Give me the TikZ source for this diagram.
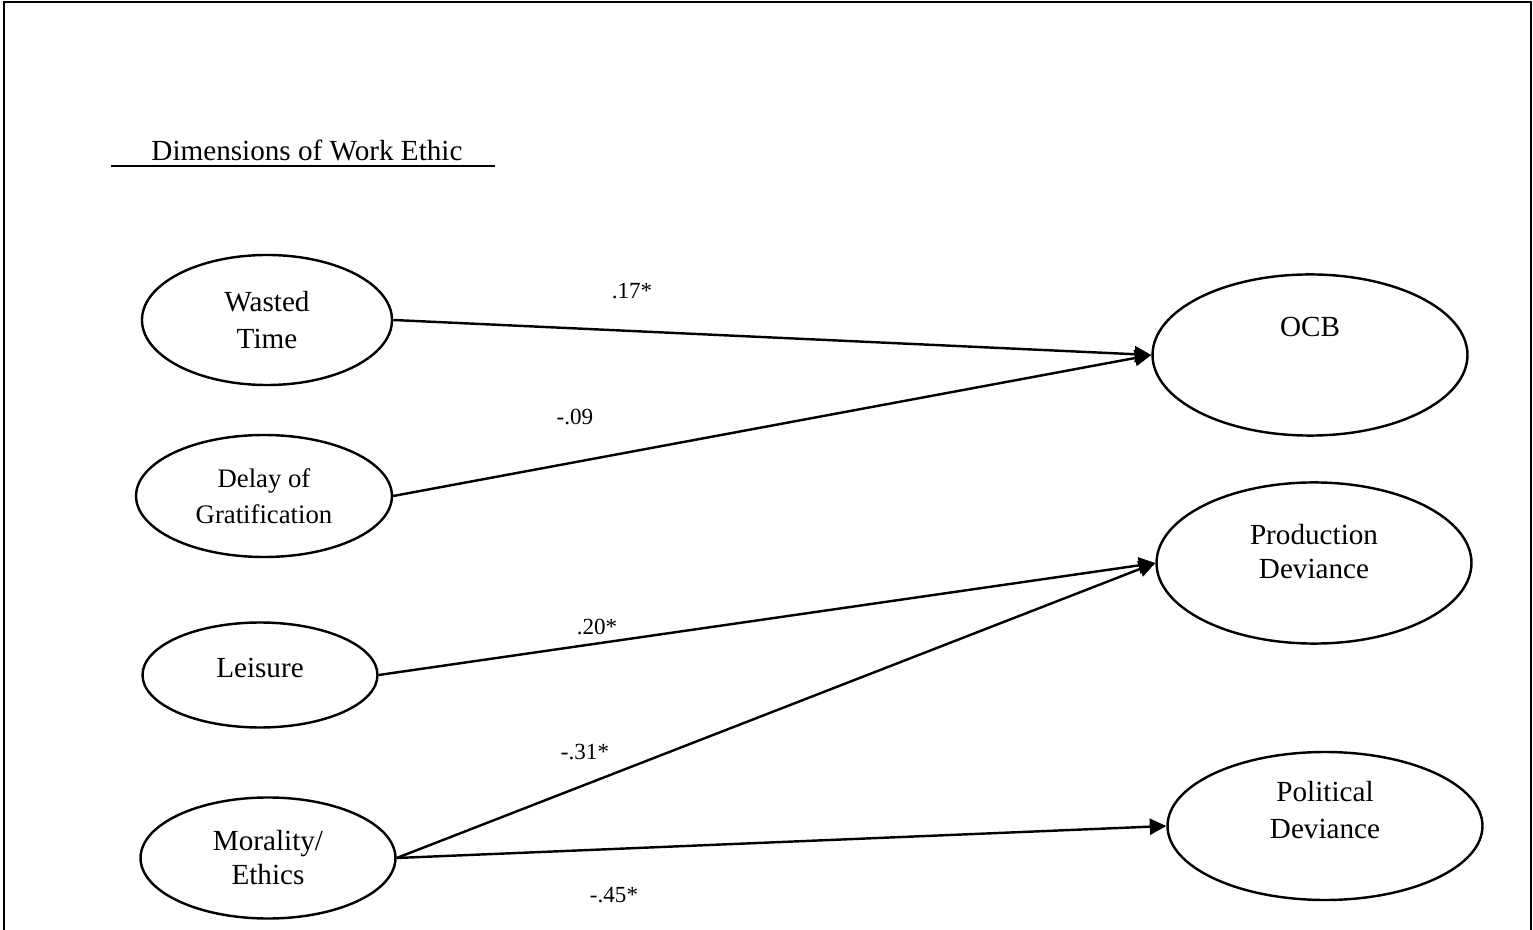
\documentclass[tikz,border=0pt]{standalone}
\usepackage{fontspec}
\setmainfont{Liberation Serif}
\usetikzlibrary{arrows.meta,shapes.geometric}

\begin{document}
\begin{tikzpicture}
  [x=0.4115pt,y=-0.4115pt,line width=1pt,
  >={Triangle[length=6.8pt,width=6.6pt]},
	dim node/.style={ellipse,draw,inner sep=0pt,align=center,
  font=\fontsize{12}{15}\selectfont},
	out node/.style={dim node,minimum width=129.6pt,minimum height=66.3pt},
	every label/.style={align=center,font=\fontsize{12}{14}\selectfont},
	coef/.style={anchor=base,font=\fontsize{9.5}{11}\selectfont}]

  \useasboundingbox (0,0) rectangle (1533,930);
  \draw (4,930) -- (4,2) -- (1531,2) -- (1531,930);

  % heading
  \node[anchor=base,font=\fontsize{12}{15}\selectfont] (head) at (307,161) {Dimensions of Work Ethic};
  \coordinate (ul1) at (111,166);
  \coordinate (ul2) at (495,166);
  \draw (ul1) -- (ul2);

  % work ethic dimensions
  \node[dim node,minimum width=102.9pt,minimum height=53.5pt] (WT) at (267,320) {Wasted\\Time};
  \node[dim node,minimum width=105.3pt,minimum height=50.2pt,
    font=\fontsize{11}{15}\selectfont] (DG) at (264,496) {Delay of\\Gratification};
  \node[dim node,minimum width=96.7pt,minimum height=43.2pt,
    label={[yshift=2.9pt]center:Leisure}] (LE) at (260,675) {};
  \node[dim node,minimum width=104.9pt,minimum height=49.8pt,
    font=\fontsize{12}{14}\selectfont] (ME) at (268,858) {Morality/\\Ethics};

  % outcomes
  \node[out node,label={[yshift=11.5pt]center:OCB}] (OCB) at (1310,355) {};
  \node[out node,label={[yshift=4.9pt]center:Production\\Deviance}] (PD) at (1314,563) {};
  \node[out node,minimum height=60.9pt,
    label={[yshift=6.6pt]center:Political\\[1.5pt]Deviance}] (PO) at (1325,826) {};

  \path[->]
    (WT.east) edge (OCB.west)
    (DG.east) edge (OCB.west)
    (LE.east) edge (PD.west)
    (ME.east) edge (PD.west)
              edge (PO.west);

  % path coefficients
  \node[coef] (c1) at (632,299) {.17*};
  \node[coef] (c2) at (575,425) {-.09};
  \node[coef] (c3) at (597,635) {.20*};
  \node[coef] (c4) at (585,759) {-.31*};
  \node[coef] (c5) at (614,902) {-.45*};
\end{tikzpicture}
\end{document}
